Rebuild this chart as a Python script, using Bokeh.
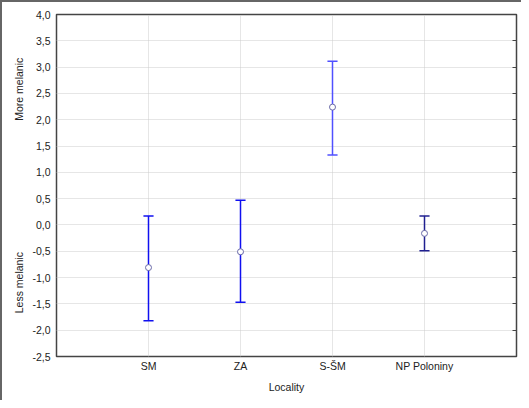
from bokeh.plotting import figure
from bokeh.models import (ColumnDataSource, FixedTicker, LinearAxis,
                          Range1d, CustomJSTickFormatter, Grid)
from bokeh.embed import file_html
from bokeh.resources import INLINE

localities = ["SM", "ZA", "S-ŠM", "NP Poloniny"]
means = [-0.81, -0.51, 2.24, -0.16]
upper = [0.17, 0.47, 3.11, 0.17]
lower = [-1.82, -1.47, 1.33, -0.49]
colors = ["#1010f0", "#1010f0", "#5050ff", "#202090"]
y_ticks = [4.0, 3.5, 3.0, 2.5, 2.0, 1.5, 1.0, 0.5, 0.0, -0.5, -1.0, -1.5, -2.0, -2.5]
y_label_low = "Less melanic"
y_label_high = "More melanic"

xs = list(range(1, len(localities) + 1))
cap = 0.055
src = ColumnDataSource(dict(
    x=xs, mean=means, up=upper, lo=lower, color=colors,
    xl=[v - cap for v in xs], xr=[v + cap for v in xs],
))

FONT = "Liberation Sans"

p = figure(width=521, height=400, output_backend="svg", toolbar_location=None,
           x_range=Range1d(0, 5), y_range=Range1d(-2.5, 4.0),
           min_border_left=54, min_border_top=12, min_border_right=7,
           min_border_bottom=46, x_axis_location=None, y_axis_location=None)
p.background_fill_color = "white"
p.border_fill_color = "white"
p.outline_line_color = "#444444"
p.outline_line_width = 1.5
p.styles = {"border-left": "2px solid #666666", "border-top": "2px solid #666666",
            "box-sizing": "border-box"}

yfmt = CustomJSTickFormatter(code="return tick.toFixed(1).replace('.', ',');")

left = LinearAxis(ticker=FixedTicker(ticks=y_ticks), formatter=yfmt)
left.major_tick_out = 0
left.major_tick_in = 0
left.minor_tick_out = 0
left.axis_line_color = None
left.major_label_text_font = FONT
left.major_label_text_font_size = "10.5px"
left.major_label_text_color = "#222222"
left.major_label_standoff = 6
left.axis_label = y_label_low + "\u00a0" * 45 + y_label_high
left.axis_label_text_font = FONT
left.axis_label_text_font_style = "normal"
left.axis_label_text_font_size = "10.5px"
left.axis_label_text_color = "#222222"
left.axis_label_standoff = 4
p.add_layout(left, "left")

right = LinearAxis(ticker=FixedTicker(ticks=y_ticks), formatter=yfmt)
right.major_tick_in = 4
right.major_tick_out = 0
right.minor_tick_out = 0
right.axis_line_color = None
right.major_tick_line_color = "#444444"
right.major_label_text_font_size = "0px"
right.major_label_text_alpha = 0
p.add_layout(right, "right")

bottom = LinearAxis(ticker=FixedTicker(ticks=xs),
                    major_label_overrides={x: n for x, n in zip(xs, localities)})
bottom.major_tick_out = 0
bottom.major_tick_in = 0
bottom.minor_tick_out = 0
bottom.axis_line_color = None
bottom.major_label_text_font = FONT
bottom.major_label_text_font_size = "10.5px"
bottom.major_label_text_color = "#222222"
bottom.major_label_standoff = 3
bottom.axis_label = "Locality"
bottom.axis_label_text_font = FONT
bottom.axis_label_text_font_style = "normal"
bottom.axis_label_text_font_size = "10.5px"
bottom.axis_label_text_color = "#222222"
bottom.axis_label_standoff = 6
p.add_layout(bottom, "below")

p.xgrid.visible = False
p.ygrid.visible = False
p.add_layout(Grid(dimension=0, ticker=FixedTicker(ticks=xs),
                  grid_line_color="#cccccc", grid_line_dash="1 1"))
p.add_layout(Grid(dimension=1, ticker=FixedTicker(ticks=y_ticks),
                  grid_line_color="#cccccc", grid_line_dash="1 1"))

p.segment(x0="x", y0="lo", x1="x", y1="up", line_color="color", line_width=1.5, source=src)
p.segment(x0="xl", y0="up", x1="xr", y1="up", line_color="color", line_width=1.5, source=src)
p.segment(x0="xl", y0="lo", x1="xr", y1="lo", line_color="color", line_width=1.5, source=src)
p.scatter(x="x", y="mean", size=6, fill_color="white", line_color="#6a6aa8",
          line_width=1, source=src)

open("out.html", "w").write(file_html(p, INLINE))
